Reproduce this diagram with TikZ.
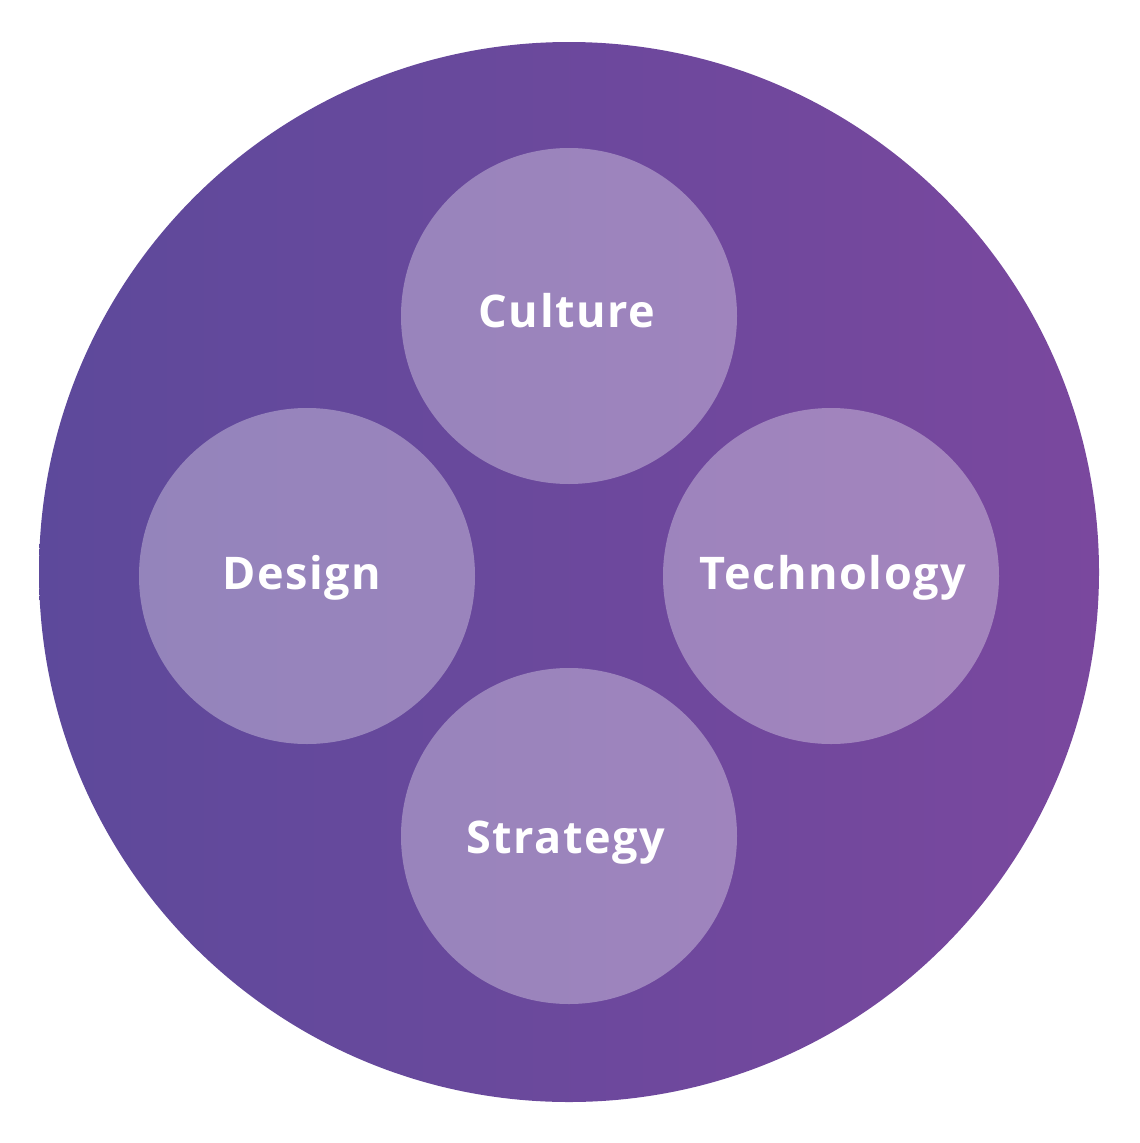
\documentclass[tikz,border=0pt]{standalone}
\usepackage{fontspec}
\setmainfont{Open Sans}
\newfontfamily\lblfont[LetterSpace=3.5]{Open Sans}
\definecolor{outerL}{HTML}{5D499B}
\definecolor{outerR}{HTML}{7A489E}
\tikzset{
  outer/.style={circle, minimum size=1060pt, inner sep=0pt, left color=outerL, right color=outerR},
  bubble/.style={circle, minimum size=336pt, inner sep=0pt, fill=white, fill opacity=0.33},
  lbl/.style={anchor=base, inner sep=0pt, text=white, font=\lblfont\fontsize{45}{50}\selectfont\bfseries}
}
\begin{document}
\begin{tikzpicture}[x=1pt,y=-1pt]
\useasboundingbox (0,0) rectangle (1140,1143);
\node[outer] (big) at (569,572) {};
\node[bubble] (culture) at (569,316) {};
\node[bubble] (design) at (307,576) {};
\node[bubble] (tech) at (831,576) {};
\node[bubble] (strategy) at (569,836) {};
\node[lbl] (culture-t) at (567,327) {Culture};
\node[lbl] (design-t) at (302,589) {Design};
\node[lbl] (tech-t) at (833,589) {Technology};
\node[lbl] (strategy-t) at (566,853) {Strategy};
\end{tikzpicture}
\end{document}
